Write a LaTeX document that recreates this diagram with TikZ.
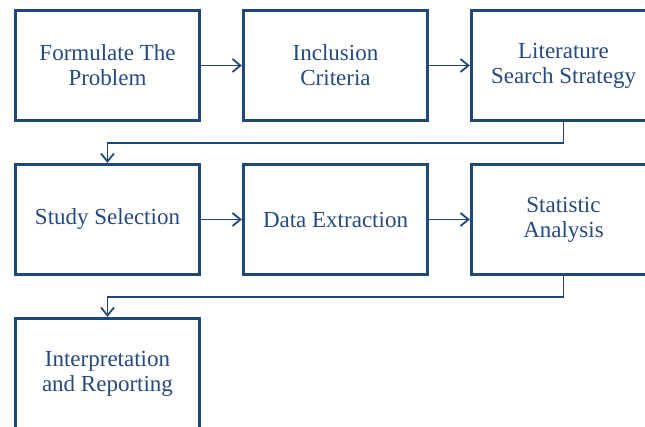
\documentclass[tikz,border=0pt]{standalone}
\usepackage{fontspec}
\setmainfont{Liberation Serif}
\usetikzlibrary{arrows.meta}
\definecolor{boxblue}{RGB}{31,71,122}
\definecolor{txtblue}{RGB}{38,73,128}
\tikzset{
  stepbox/.style={draw=boxblue, line width=3.2pt, minimum width=184pt, minimum height=110pt,
    inner sep=0pt, align=center, text=txtblue, font=\fontsize{23}{25}\selectfont},
  conn/.style={draw=boxblue, line width=1.8pt, -{Straight Barb[length=8pt,width=13pt,line width=1.8pt]}}
}
\begin{document}
\begin{tikzpicture}[x=1pt,y=-1pt]
\useasboundingbox (0,0) rectangle (645,427);
\clip (0,0) rectangle (645,427);
\node[stepbox] (b1) at (107.5,65.5) {Formulate The\\Problem};
\node[stepbox] (b2) at (335.5,65.5) {Inclusion\\Criteria};
\node[stepbox] (b3) at (563.5,65.5) {Literature\\Search Strategy};
\node[stepbox] (b4) at (107.5,219.5) {Study Selection};
\node[stepbox] (b5) at (335.5,219.5) {Data Extraction};
\node[stepbox] (b6) at (563.5,219.5) {Statistic\\Analysis};
\node[stepbox] (b7) at (107.5,373.5) {Interpretation\\and Reporting};
\draw[conn] (b1) -- (b2);
\draw[conn] (b2) -- (b3);
\draw[conn] (b4) -- (b5);
\draw[conn] (b5) -- (b6);
\draw[conn] (b3.south) -- ++(0,21) -| (b4.north);
\draw[conn] (b6.south) -- ++(0,21) -| (b7.north);
\end{tikzpicture}
\end{document}
